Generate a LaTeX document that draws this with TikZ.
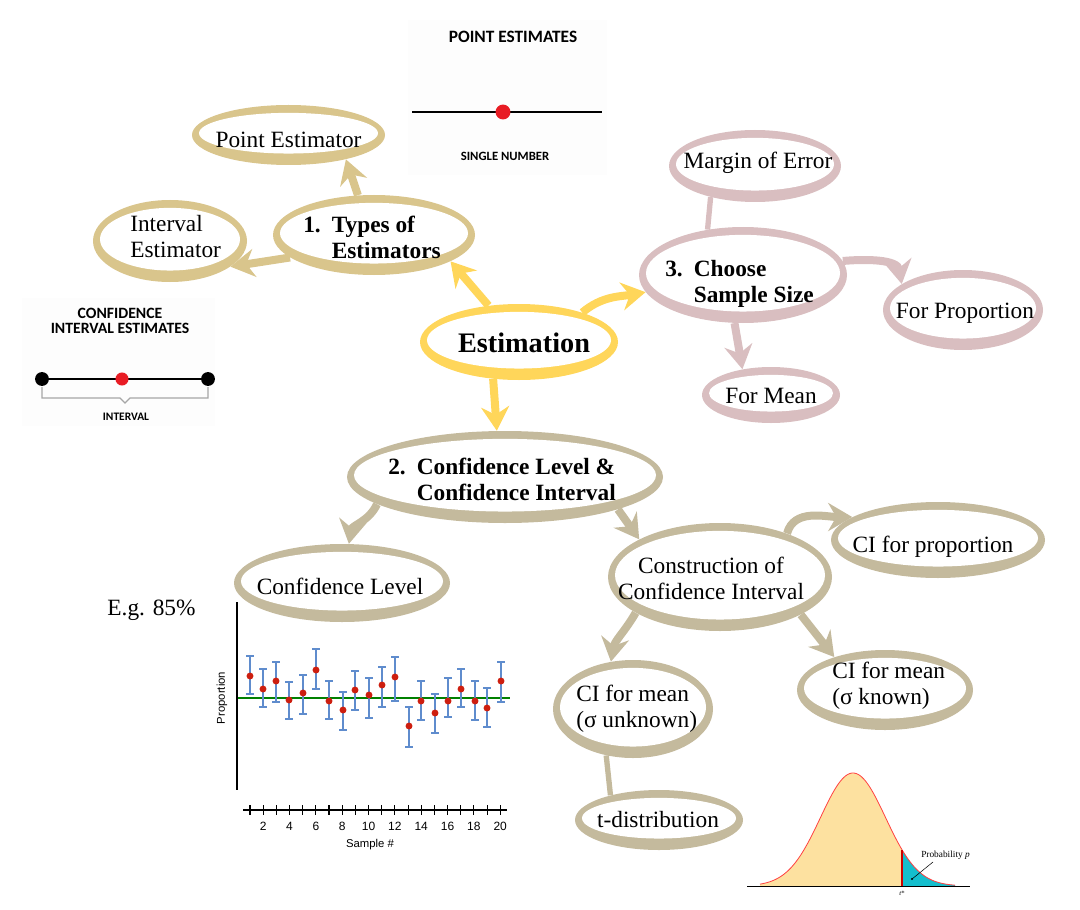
\documentclass[tikz,border=0pt]{standalone}
\usepackage{fontspec}
\setmainfont{Liberation Serif}
\newfontfamily\carl{Carlito}
\newfontfamily\arialf{Liberation Sans}
\usetikzlibrary{arrows.meta,shapes.geometric}
\definecolor{tanA}{RGB}{217,197,140}
\definecolor{yel}{RGB}{255,214,90}
\definecolor{pinkA}{RGB}{217,190,192}
\definecolor{khaki}{RGB}{196,186,157}
\definecolor{dotred}{RGB}{232,28,36}
\definecolor{barblue}{RGB}{95,140,205}
\definecolor{ptred}{RGB}{205,30,15}
\definecolor{tfill}{RGB}{253,225,160}
\definecolor{tcyan}{RGB}{20,190,205}
\newcommand\myring[6]{%
  \node[ringout, fill=#6, minimum width=#4*1.5pt, minimum height=#5*1.5pt] (#1) at (#2,#3) {};
  \node[ringout, fill=white, minimum width=#4*1.5pt-10.5pt, minimum height=#5*1.5pt-14.5pt] (#1-in) at (#2,#3-1.8) {};}
\newcommand\numitem[3]{\begin{tabular}[t]{@{}l@{\hspace{8.3pt}}l@{}}#1&#2\\&#3\end{tabular}}
\newcommand\twol[3]{\begin{tabular}[t]{@{}#1@{}}#2\\#3\end{tabular}}
\begin{document}
\begin{tikzpicture}[x=0.75pt,y=-0.75pt,
  ringout/.style={ellipse, inner sep=0pt, draw=none},
  lbl/.style={font=\fontsize{17.5}{19.5}\selectfont, inner sep=0pt},
  blbl/.style={font=\fontsize{17.5}{19.5}\selectfont\bfseries, inner sep=0pt},
  conn/.style={line width=6pt, -{Stealth[length=18pt,width=21pt,inset=6pt]}},
  link/.style={line width=4pt},
  capsA/.style={font=\carl\bfseries\fontsize{13}{14}\selectfont, inner sep=0pt},
  axlbl/.style={font=\arialf\fontsize{9}{10}\selectfont, inner sep=0pt}]
\useasboundingbox (0,0) rectangle (1080,909);

% ---- picture: point estimates
\fill[gray!1.5] (408,20) rectangle (607,175);
\node[capsA] (pehead) at (513,37) {POINT ESTIMATES};
\draw[line width=2.2pt] (412,112) -- (602,112);
\fill[dotred] (503,112) circle (5.6pt);
\node[capsA, font=\carl\bfseries\fontsize{9.5}{10}\selectfont] (pesub) at (505,156) {SINGLE NUMBER};

% ---- picture: confidence interval estimates
\fill[gray!1.5] (22,298) rectangle (215,426);
\node[capsA, font=\carl\bfseries\fontsize{11.8}{11.3}\selectfont, align=center] (cihead) at (120,321) {CONFIDENCE\\INTERVAL ESTIMATES};
\draw[line width=2.2pt] (42,379) -- (208,379);
\fill[black] (42,379) circle (5.2pt) (208,379) circle (5.2pt);
\fill[dotred] (122,379) circle (4.9pt);
\draw[gray!70, line width=0.9pt] (42,387) -- (42,398) -- (120,398) -- (125,403) -- (130,398) -- (208,398) -- (208,387);
\node[capsA, font=\carl\bfseries\fontsize{8.6}{9}\selectfont] (cisub) at (126,417) {INTERVAL};

% ---- rings
\myring{pe}{288.5}{135}{96.5}{30}{tanA}
\myring{types}{374}{235}{101}{40}{tanA}
\myring{ie}{170}{241}{77}{41}{tanA}
\myring{est}{519}{342}{99}{38}{yel}
\myring{choose}{743}{275}{104}{48}{pinkA}
\myring{moe}{755}{166}{86}{36}{pinkA}
\myring{fp}{963}{310}{80}{40}{pinkA}
\myring{fm}{771}{395}{69}{28}{pinkA}
\myring{ci}{505}{477}{158}{46}{khaki}
\myring{cl}{342}{583}{108}{39}{khaki}
\myring{con}{720}{577}{112}{54}{khaki}
\myring{cp}{938}{540}{107}{38}{khaki}
\myring{sk}{885}{690}{88}{40}{khaki}
\myring{su}{633}{709}{80}{49}{khaki}
\myring{td}{659}{820}{84}{30}{khaki}

% ---- connectors
\draw[conn, yel] (est.130) -- (types.-19);
\draw[conn, yel] (est.25) to[out=40,in=190] (choose.190);
\draw[conn, yel] (est.-125) -- (ci.100);
\draw[conn, tanA] (types.112) -- (pe.-23);
\draw[conn, tanA] (types.-165) -- (ie.-23);
\draw[link, pinkA] (choose.128) -- (moe.-145);
\draw[conn, pinkA] (choose.8) to[out=5,in=100] (fp.157);
\draw[conn, pinkA] (choose.-100) -- (fm.138);
\draw[conn, khaki] (ci.-168) to[out=-115,in=80] (cl.80);
\draw[conn, khaki] (ci.-16) -- (con.155);
\draw[conn, khaki] (con.33) to[out=75,in=180] (cp.165);
\draw[conn, khaki] (con.-157) to[out=-120,in=80] (su.115);
\draw[conn, khaki] (con.-25) -- (sk.147);
\draw[link, khaki] (su.-120) -- (td.153);

% ---- labels
\node[lbl, anchor=base] (pe-t) at (288.5,148) {Point Estimator};
\node[blbl, anchor=base west] (types-t) at (303,233) {\numitem{1.}{Types of}{Estimators}};
\node[lbl, anchor=base west] (ie-t) at (130,232) {\twol{l}{Interval}{Estimator}};
\node[font=\fontsize{21.2}{24}\selectfont\bfseries, inner sep=0pt, anchor=base] (est-t) at (524,352) {Estimation};
\node[blbl, anchor=base west] (choose-t) at (665,276) {\numitem{3.}{Choose}{Sample Size}};
\node[lbl, anchor=base] (moe-t) at (758,169) {Margin of Error};
\node[lbl, anchor=base] (fp-t) at (965,318) {For Proportion};
\node[lbl, anchor=base] (fm-t) at (771,403) {For Mean};
\node[blbl, anchor=base west] (ci-t) at (388,474) {\numitem{2.}{Confidence Level \&}{Confidence Interval}};
\node[lbl, anchor=base] (cl-t) at (340,594) {Confidence Level};
\node[lbl, anchor=base] (eg-t) at (151.5,615) {E.g. 85\%};
\node[lbl, anchor=base] (con-t) at (711,573) {\twol{c}{Construction of}{Confidence Interval}};
\node[lbl, anchor=base] (cp-t) at (933,552) {CI for proportion};
\node[lbl, anchor=base west] (sk-t) at (832,678) {\twol{l}{CI for mean}{(σ known)}};
\node[lbl, anchor=base west] (su-t) at (576,701) {\twol{l}{CI for mean}{(σ unknown)}};
\node[lbl, anchor=base] (td-t) at (658,827) {t-distribution};

% ---- chart
\draw[line width=0.8pt] (237,602) -- (237,790);
\draw[green!50!black, line width=1.5pt] (238,698) -- (510,698);
\foreach \xx/\d/\lo/\hi in {250/676/656/694, 263/689/669/707, 276/681/662/702, 289/700/682/719, 303/693/675/714,
  316/670/649/689, 329/701/681/719, 343/710/692/730, 355/690/671/710, 369/695/678/718,
  382/685/667/707, 395/677/657/701, 409/726/707/747, 421/701/681/720, 435/713/694/733,
  448/701/678/717, 461/689/669/707, 475/701/681/720, 487/708/688/727, 501/681/662/702}{
  \draw[barblue, line width=1pt] (\xx,\lo) -- (\xx,\hi) (\xx-4,\lo) -- (\xx+4,\lo) (\xx-4,\hi) -- (\xx+4,\hi);
  \fill[ptred] (\xx,\d) circle (2.6pt);
}
\draw[line width=0.8pt] (243,810) -- (507,810);
\foreach \i in {1,...,20}{\draw[line width=0.8pt] ({250+13.17*(\i-1)},805) -- ++(0,10);}
\foreach \i in {2,4,...,20}{\node[axlbl] at ({250+13.17*(\i-1)},826) {\i};}
\node[axlbl, font=\arialf\fontsize{8.5}{9}\selectfont] (xlab) at (370,845) {Sample \#};
\node[axlbl, font=\arialf\fontsize{8.5}{9}\selectfont, rotate=90] (ylab) at (222,698) {Proportion};

% ---- t distribution
\fill[tfill] (760,886) -- plot[domain=760:902, samples=60] (\x, {886-113*exp(-((\x-853)^2)/2112.5)}) -- (902,886) -- cycle;
\fill[tcyan] (902,886) -- plot[domain=902:955, samples=30] (\x, {886-113*exp(-((\x-853)^2)/2112.5)}) -- (955,886) -- cycle;
\draw[red!75, line width=0.6pt] plot[domain=760:955, samples=120] (\x, {886-113*exp(-((\x-853)^2)/2112.5)});
\draw[red!80!black, line width=1pt] (902,886) -- (902,850);
\draw[line width=0.6pt] (747,886) -- (970,886);
\draw[line width=0.4pt] (912,879) -- (933,862);
\fill (912,879) circle (0.8pt);
\node[font=\fontsize{7}{8}\selectfont, anchor=west, inner sep=0pt] (probp) at (921,855) {Probability \textit{p}};
\node[font=\fontsize{5}{5}\selectfont, inner sep=0pt] (tstar) at (902,893) {\textit{t}*};
\end{tikzpicture}
\end{document}
